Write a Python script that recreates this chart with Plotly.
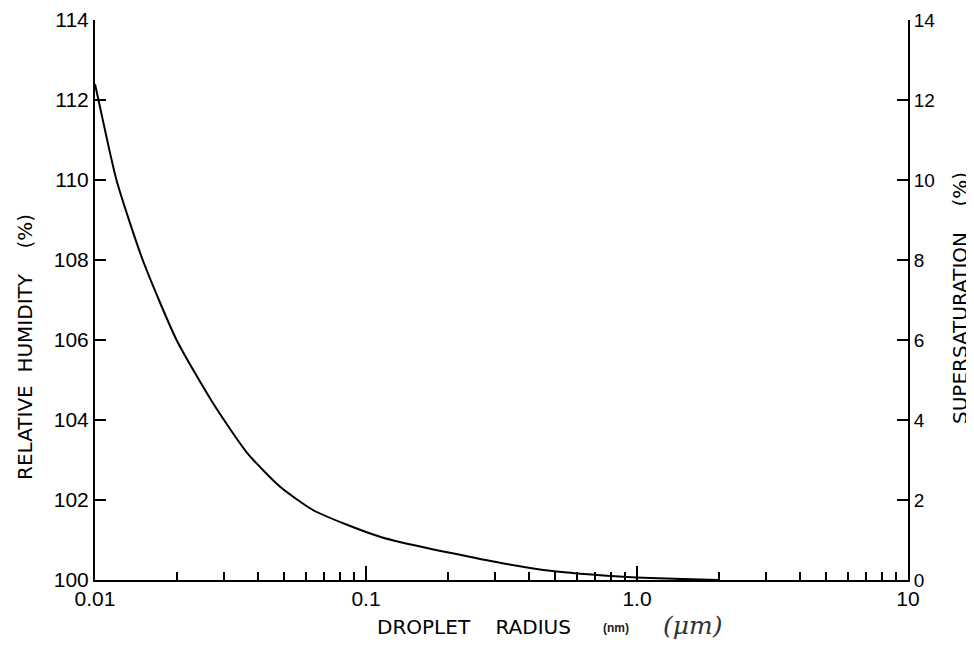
import plotly.graph_objects as go

# Data (Kelvin curve)
radius_um = [0.01, 0.0103, 0.0120, 0.0150, 0.0200, 0.0272, 0.0364, 0.0482, 0.0637,
             0.0851, 0.1127, 0.133, 0.204, 0.312, 0.478, 0.73, 1.12, 1.71, 2.0]
rel_humidity = [112.4, 112.0, 110.0, 108.0, 106.0, 104.43, 103.18, 102.33, 101.75,
                101.38, 101.08, 100.95, 100.68, 100.43, 100.23, 100.12, 100.05, 100.01, 100.0]

x_major = [0.01, 0.1, 1.0, 10]
x_major_text = ["0.01", "0.1", "1.0", "10"]
x_minor = [m * d for d in (0.01, 0.1, 1.0) for m in range(2, 10)]
rh_ticks = [100, 102, 104, 106, 108, 110, 112, 114]
ss_ticks = [0, 2, 4, 6, 8, 10, 12, 14]

FONT = "Liberation Sans"
TFONT = "DejaVu Sans"

OFF = 8  # page body margin in the browser
W, H = 974 - OFF, 648 - 2 * OFF  # keep the figure inside the window (no scrollbars)
# target plot box in page pixels: x 95..908, y 20..580
ML = 95 - OFF
MT = 20 - OFF
MR = W - (908 - OFF)
MB = H - (580 - OFF)

fig = go.Figure()
fig.add_trace(go.Scatter(x=radius_um, y=rel_humidity, mode="lines",
                         line=dict(color="black", width=2, shape="spline", smoothing=0.6),
                         showlegend=False, hoverinfo="skip"))
# invisible trace for the right axis
fig.add_trace(go.Scatter(x=[0.01], y=[0], yaxis="y2", mode="markers",
                         marker=dict(opacity=0), showlegend=False, hoverinfo="skip"))

fig.update_layout(
    width=W, height=H,
    margin=dict(l=ML, r=MR, t=MT, b=MB, autoexpand=False),
    paper_bgcolor="white", plot_bgcolor="white",
    font=dict(family=FONT, color="black"),
    xaxis=dict(type="log", range=[-2, 1], showgrid=False, zeroline=False,
               automargin=False, ticklabeloverflow="allow",
               showline=True, linecolor="black", linewidth=2,
               tickvals=x_major, ticktext=x_major_text, ticks="inside",
               ticklen=14, tickwidth=2, tickcolor="black",
               tickfont=dict(size=21, family=FONT), ticklabelstandoff=-1,
               minor=dict(tickvals=x_minor, ticks="inside", ticklen=8,
                          tickwidth=2, tickcolor="black", showgrid=False)),
    yaxis=dict(range=[100, 114], showgrid=False, zeroline=False, automargin=False,
               ticklabeloverflow="allow",
               showline=True, linecolor="black", linewidth=2,
               tickvals=rh_ticks, ticks="inside", ticklen=11, tickwidth=2,
               tickcolor="black", tickfont=dict(size=21, family=FONT)),
    yaxis2=dict(range=[0, 14], overlaying="y", side="right", anchor="x",
                showgrid=False, zeroline=False, automargin=False,
                ticklabeloverflow="allow",
                showline=True, linecolor="black", linewidth=2,
                tickvals=ss_ticks, ticks="inside", ticklen=11, tickwidth=2,
                tickcolor="black", tickfont=dict(size=19, family=FONT)),
)

pw = W - ML - MR
ph = H - MT - MB


def px2paper(px, py):
    # page pixel -> paper coordinates
    return (px - OFF - ML) / pw, (H - MB - (py - OFF)) / ph


anns = [
    ("RELATIVE  HUMIDITY    (%)", 25, 347, -90, 20, TFONT, "black"),
    ("SUPERSATURATION    (%)", 960, 298, -90, 20, TFONT, "black"),
    ("DROPLET    RADIUS", 474, 627, 0, 20, TFONT, "black"),
    ("<b>(nm)</b>", 616, 628, 0, 12, FONT, "#222"),
    ("<i>(μm)</i>", 692, 625, 0, 25, "DejaVu Serif", "#333"),
]
for text, px, py, ang, size, fam, col in anns:
    xp, yp = px2paper(px, py)
    fig.add_annotation(text=text, x=xp, y=yp, xref="paper", yref="paper",
                       xanchor="center", yanchor="middle",
                       showarrow=False, textangle=ang,
                       font=dict(size=size, family=fam, color=col))

fig.write_html("out.html")
